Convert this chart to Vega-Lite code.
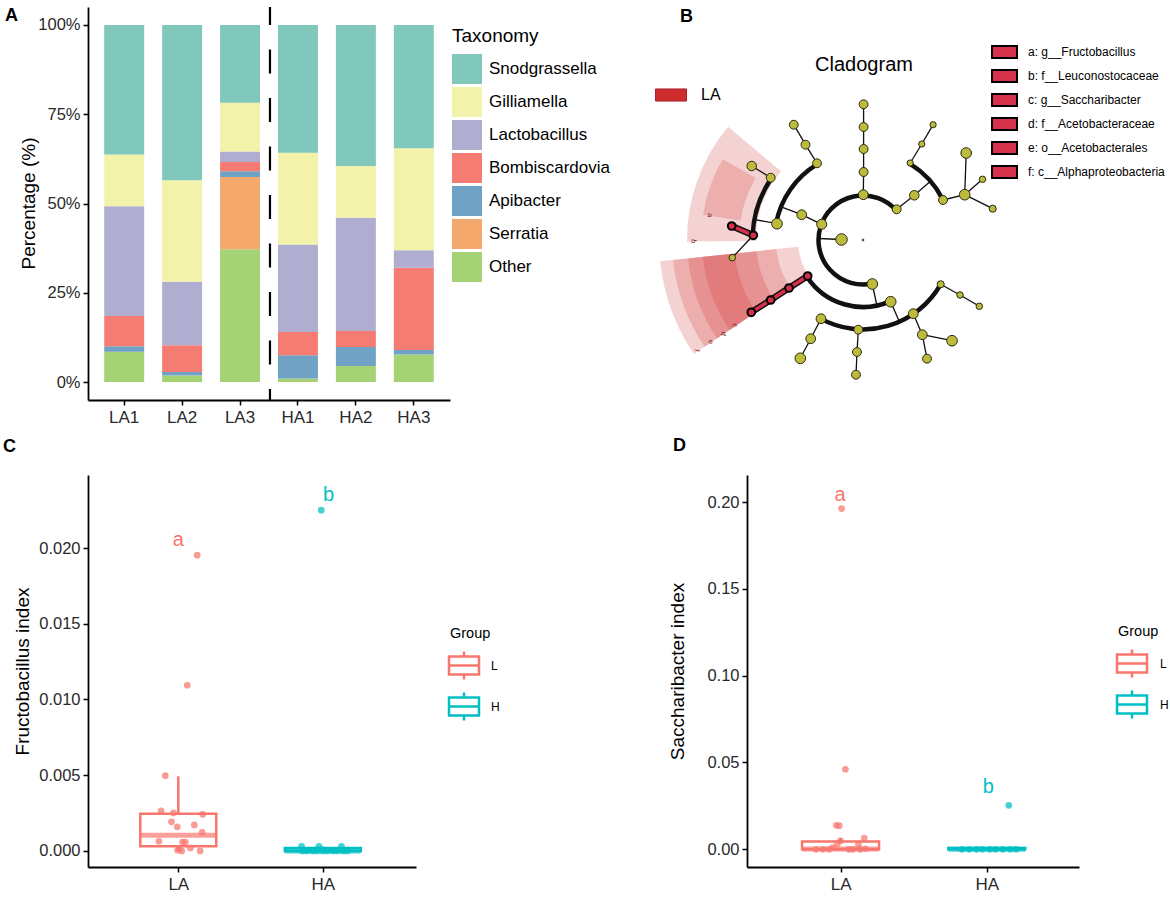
{
  "$schema": "https://vega.github.io/schema/vega-lite/v6.json",
  "background": "white",
  "padding": {"left": 3, "top": 5, "right": 0, "bottom": 0},
  "bounds": "flush",
  "columns": 2,
  "align": "all",
  "spacing": {"row": 75, "column": 297},
  "resolve": {"scale": {"color": "independent", "fill": "independent", "stroke": "independent", "size": "independent", "x": "independent", "y": "independent"}},
  "config": {
    "view": {"stroke": null},
    "font": "Liberation Sans",
    "axis": {"grid": false, "domainColor": "black", "domainWidth": 1.8, "tickColor": "black", "tickWidth": 1.5, "tickSize": 5, "labelColor": "#2a2a2a", "labelFontSize": 16.5, "labelFont": "Liberation Sans", "titleFont": "Liberation Sans", "titleFontSize": 19, "titleFontWeight": "normal", "titleColor": "black", "labelPadding": 3},
    "legend": {"labelFont": "Liberation Sans", "titleFont": "Liberation Sans", "labelColor": "black", "titleColor": "black", "padding": 0, "titleFontWeight": "normal"},
    "title": {"font": "Liberation Sans", "fontSize": 18, "fontWeight": "bold", "anchor": "start", "frame": "group", "baseline": "alphabetic", "color": "black"}
  },
  "datasets": {
    "taxa": [
      {"sample": "LA1", "taxon": "Other", "pct": 8.5, "rank": 1},
      {"sample": "LA1", "taxon": "Apibacter", "pct": 1.5, "rank": 3},
      {"sample": "LA1", "taxon": "Bombiscardovia", "pct": 8.5, "rank": 4},
      {"sample": "LA1", "taxon": "Lactobacillus", "pct": 30.7, "rank": 5},
      {"sample": "LA1", "taxon": "Gilliamella", "pct": 14.5, "rank": 6},
      {"sample": "LA1", "taxon": "Snodgrassella", "pct": 36.3, "rank": 7},
      {"sample": "LA2", "taxon": "Other", "pct": 1.8, "rank": 1},
      {"sample": "LA2", "taxon": "Apibacter", "pct": 1.0, "rank": 3},
      {"sample": "LA2", "taxon": "Bombiscardovia", "pct": 7.5, "rank": 4},
      {"sample": "LA2", "taxon": "Lactobacillus", "pct": 17.8, "rank": 5},
      {"sample": "LA2", "taxon": "Gilliamella", "pct": 28.4, "rank": 6},
      {"sample": "LA2", "taxon": "Snodgrassella", "pct": 43.5, "rank": 7},
      {"sample": "LA3", "taxon": "Other", "pct": 37.2, "rank": 1},
      {"sample": "LA3", "taxon": "Serratia", "pct": 20.2, "rank": 2},
      {"sample": "LA3", "taxon": "Apibacter", "pct": 1.6, "rank": 3},
      {"sample": "LA3", "taxon": "Bombiscardovia", "pct": 2.6, "rank": 4},
      {"sample": "LA3", "taxon": "Lactobacillus", "pct": 3.0, "rank": 5},
      {"sample": "LA3", "taxon": "Gilliamella", "pct": 13.6, "rank": 6},
      {"sample": "LA3", "taxon": "Snodgrassella", "pct": 21.8, "rank": 7},
      {"sample": "HA1", "taxon": "Other", "pct": 1.0, "rank": 1},
      {"sample": "HA1", "taxon": "Apibacter", "pct": 6.5, "rank": 3},
      {"sample": "HA1", "taxon": "Bombiscardovia", "pct": 6.5, "rank": 4},
      {"sample": "HA1", "taxon": "Lactobacillus", "pct": 24.5, "rank": 5},
      {"sample": "HA1", "taxon": "Gilliamella", "pct": 25.7, "rank": 6},
      {"sample": "HA1", "taxon": "Snodgrassella", "pct": 35.8, "rank": 7},
      {"sample": "HA2", "taxon": "Other", "pct": 4.5, "rank": 1},
      {"sample": "HA2", "taxon": "Apibacter", "pct": 5.3, "rank": 3},
      {"sample": "HA2", "taxon": "Bombiscardovia", "pct": 4.5, "rank": 4},
      {"sample": "HA2", "taxon": "Lactobacillus", "pct": 31.7, "rank": 5},
      {"sample": "HA2", "taxon": "Gilliamella", "pct": 14.5, "rank": 6},
      {"sample": "HA2", "taxon": "Snodgrassella", "pct": 39.5, "rank": 7},
      {"sample": "HA3", "taxon": "Other", "pct": 7.7, "rank": 1},
      {"sample": "HA3", "taxon": "Apibacter", "pct": 1.3, "rank": 3},
      {"sample": "HA3", "taxon": "Bombiscardovia", "pct": 23.0, "rank": 4},
      {"sample": "HA3", "taxon": "Lactobacillus", "pct": 4.9, "rank": 5},
      {"sample": "HA3", "taxon": "Gilliamella", "pct": 28.6, "rank": 6},
      {"sample": "HA3", "taxon": "Snodgrassella", "pct": 34.5, "rank": 7}
    ],
    "wedges": [
      {"group": "LA", "clade": "b", "t1": 269.5, "t2": 310, "r1": 107, "r2": 176},
      {"group": "LA", "clade": "a", "t1": 279, "t2": 300, "r1": 124, "r2": 162},
      {"group": "LA", "clade": "f", "t1": 236, "t2": 264, "r1": 65, "r2": 204},
      {"group": "LA", "clade": "e", "t1": 236, "t2": 264, "r1": 87, "r2": 191},
      {"group": "LA", "clade": "d", "t1": 236, "t2": 264, "r1": 107, "r2": 176},
      {"group": "LA", "clade": "c", "t1": 236, "t2": 264, "r1": 129, "r2": 161}
    ],
    "wlabels": [
      {"lbl": "a", "x": -153, "y": 24.7},
      {"lbl": "b", "x": -169.7, "y": -1.3},
      {"lbl": "c", "x": -128, "y": -85.3},
      {"lbl": "d", "x": -139.7, "y": -93.7},
      {"lbl": "e", "x": -152.3, "y": -102},
      {"lbl": "f", "x": -166.3, "y": -110.3}
    ],
    "arcs": [
      {"r": 44.5, "t1": -192, "t2": 47.7},
      {"r": 67, "t1": 155.8, "t2": 237},
      {"r": 88.5, "t1": 280.7, "t2": 329},
      {"r": 89.5, "t1": 31.5, "t2": 63.4},
      {"r": 89.4, "t1": 119.7, "t2": 208.1},
      {"r": 110.5, "t1": 272.5, "t2": 304}
    ],
    "edges": [
      {"x": -21.5, "y": 0.5, "x2": -44.5, "y2": 1.5, "bio": false},
      {"x": 0.3, "y": 45.3, "x2": 0.6, "y2": 68, "bio": false},
      {"x": 0.6, "y": 68, "x2": 0.6, "y2": 91, "bio": false},
      {"x": 0.6, "y": 91, "x2": 0.6, "y2": 113, "bio": false},
      {"x": 0.6, "y": 113, "x2": 0.6, "y2": 135.7, "bio": false},
      {"x": -41.3, "y": 15.7, "x2": -61.3, "y2": 25.3, "bio": false},
      {"x": -61.3, "y": 25.3, "x2": -82.5, "y2": 33.3, "bio": false},
      {"x": -86, "y": 16.3, "x2": -109.6, "y2": 20.7, "bio": false},
      {"x": -109.7, "y": 4.7, "x2": -130.7, "y2": -17.7, "bio": false},
      {"x": -92.3, "y": 62.3, "x2": -111.3, "y2": 74, "bio": false},
      {"x": -46, "y": 76.7, "x2": -57.5, "y2": 95.3, "bio": false},
      {"x": -57.5, "y": 95.3, "x2": -69.2, "y2": 115.3, "bio": false},
      {"x": 33.7, "y": 30.7, "x2": 51.3, "y2": 44.7, "bio": false},
      {"x": 51.3, "y": 44.7, "x2": 67.2, "y2": 58.4, "bio": false},
      {"x": 47.2, "y": 77, "x2": 58.8, "y2": 96, "bio": false},
      {"x": 58.8, "y": 96, "x2": 70.1, "y2": 115.3, "bio": false},
      {"x": 80, "y": 40, "x2": 101.7, "y2": 45.3, "bio": false},
      {"x": 101.7, "y": 45.3, "x2": 103.2, "y2": 87, "bio": false},
      {"x": 101.7, "y": 45.3, "x2": 119.5, "y2": 60.7, "bio": false},
      {"x": 101.7, "y": 45.3, "x2": 129.7, "y2": 31.3, "bio": false},
      {"x": 9.3, "y": -44, "x2": 13.9, "y2": -65.5, "bio": false},
      {"x": 27.7, "y": -61.7, "x2": 36.2, "y2": -81.3, "bio": false},
      {"x": 77.7, "y": -44.3, "x2": 97, "y2": -55, "bio": false},
      {"x": 97, "y": -55, "x2": 116.3, "y2": -66.3, "bio": false},
      {"x": 50.3, "y": -73.7, "x2": 59.3, "y2": -94.7, "bio": false},
      {"x": 59.3, "y": -94.7, "x2": 89, "y2": -100.7, "bio": false},
      {"x": 59.3, "y": -94.7, "x2": 64, "y2": -118.7, "bio": false},
      {"x": -4.7, "y": -89.7, "x2": -6, "y2": -112, "bio": false},
      {"x": -6, "y": -112, "x2": -7, "y2": -134.7, "bio": false},
      {"x": -42, "y": -78.7, "x2": -52.3, "y2": -98.7, "bio": false},
      {"x": -52.3, "y": -98.7, "x2": -62.7, "y2": -118.3, "bio": false},
      {"x": -55.3, "y": -36, "x2": -74, "y2": -48, "bio": true},
      {"x": -74, "y": -48, "x2": -92.3, "y2": -60, "bio": true},
      {"x": -92.3, "y": -60, "x2": -111.7, "y2": -72.3, "bio": true},
      {"x": -109.7, "y": 4.7, "x2": -131.3, "y2": 14, "bio": true}
    ],
    "nodes": [
      {"x": 0, "y": 0, "abund": 2, "bio": false},
      {"x": -21.5, "y": 0.5, "abund": 13, "bio": false},
      {"x": 0.3, "y": 45.3, "abund": 11, "bio": false},
      {"x": -41.3, "y": 15.7, "abund": 11.3, "bio": false},
      {"x": 33.7, "y": 30.7, "abund": 10, "bio": false},
      {"x": 9.3, "y": -44, "abund": 12, "bio": false},
      {"x": 0.6, "y": 68, "abund": 10, "bio": false},
      {"x": -61.3, "y": 25.3, "abund": 11, "bio": false},
      {"x": 51.3, "y": 44.7, "abund": 10.7, "bio": false},
      {"x": 27.7, "y": -61.7, "abund": 12, "bio": false},
      {"x": 0.6, "y": 91, "abund": 10, "bio": false},
      {"x": -86, "y": 16.3, "abund": 12, "bio": false},
      {"x": -46, "y": 76.7, "abund": 10, "bio": false},
      {"x": 47.2, "y": 77, "abund": 7, "bio": false},
      {"x": 80, "y": 40, "abund": 10, "bio": false},
      {"x": 77.7, "y": -44.3, "abund": 8, "bio": false},
      {"x": 50.3, "y": -73.7, "abund": 11, "bio": false},
      {"x": -4.7, "y": -89.7, "abund": 10, "bio": false},
      {"x": -42, "y": -78.7, "abund": 11, "bio": false},
      {"x": 0.6, "y": 113, "abund": 10, "bio": false},
      {"x": -92.3, "y": 62.3, "abund": 10, "bio": false},
      {"x": -57.5, "y": 95.3, "abund": 10, "bio": false},
      {"x": 58.8, "y": 96, "abund": 7, "bio": false},
      {"x": 101.7, "y": 45.3, "abund": 12, "bio": false},
      {"x": 97, "y": -55, "abund": 7.3, "bio": false},
      {"x": 59.3, "y": -94.7, "abund": 11, "bio": false},
      {"x": -6, "y": -112, "abund": 10, "bio": false},
      {"x": -52.3, "y": -98.7, "abund": 11, "bio": false},
      {"x": 0.6, "y": 135.7, "abund": 10, "bio": false},
      {"x": -130.7, "y": -17.7, "abund": 7.3, "bio": false},
      {"x": -111.3, "y": 74, "abund": 10.7, "bio": false},
      {"x": -69.2, "y": 115.3, "abund": 10, "bio": false},
      {"x": 70.1, "y": 115.3, "abund": 7, "bio": false},
      {"x": 103.2, "y": 87, "abund": 12, "bio": false},
      {"x": 119.5, "y": 60.7, "abund": 7.3, "bio": false},
      {"x": 129.7, "y": 31.3, "abund": 8, "bio": false},
      {"x": 116.3, "y": -66.3, "abund": 7.3, "bio": false},
      {"x": 89, "y": -100.7, "abund": 12, "bio": false},
      {"x": 64, "y": -118.7, "abund": 10, "bio": false},
      {"x": -7, "y": -134.7, "abund": 10, "bio": false},
      {"x": -62.7, "y": -118.3, "abund": 12, "bio": false},
      {"x": -131.3, "y": 14, "abund": 8.7, "bio": true, "clade": "a: g__Fructobacillus"},
      {"x": -109.7, "y": 4.7, "abund": 8.7, "bio": true, "clade": "b: f__Leuconostocaceae"},
      {"x": -111.7, "y": -72.3, "abund": 8.7, "bio": true, "clade": "c: g__Saccharibacter"},
      {"x": -92.3, "y": -60, "abund": 8.7, "bio": true, "clade": "d: f__Acetobacteraceae"},
      {"x": -74, "y": -48, "abund": 8.7, "bio": true, "clade": "e: o__Acetobacterales"},
      {"x": -55.3, "y": -36, "abund": 8.7, "bio": true, "clade": "f: c__Alphaproteobacteria"}
    ],
    "boxC": [
      {"Group": "L", "g": 1, "lo": 0, "q1": 0.00031, "med": 0.00104, "q3": 0.00246, "hi": 0.00493},
      {"Group": "H", "g": 2, "lo": 0, "q1": 0, "med": 0, "q3": 0.0002, "hi": 0.0003}
    ],
    "ptsC": [
      {"Group": "L", "gj": 1.131, "value": 0.01953},
      {"Group": "L", "gj": 1.062, "value": 0.01094},
      {"Group": "L", "gj": 0.91, "value": 0.00497},
      {"Group": "L", "gj": 0.881, "value": 0.00264},
      {"Group": "L", "gj": 0.967, "value": 0.00251},
      {"Group": "L", "gj": 1.169, "value": 0.00242},
      {"Group": "L", "gj": 0.953, "value": 0.00192},
      {"Group": "L", "gj": 0.993, "value": 0.00159},
      {"Group": "L", "gj": 1.111, "value": 0.00172},
      {"Group": "L", "gj": 1.165, "value": 0.00123},
      {"Group": "L", "gj": 0.866, "value": 0.00064},
      {"Group": "L", "gj": 1.029, "value": 0.00059},
      {"Group": "L", "gj": 1.049, "value": 0.00059},
      {"Group": "L", "gj": 1.007, "value": 0.00015},
      {"Group": "L", "gj": 1.024, "value": 0.0},
      {"Group": "L", "gj": 1.084, "value": 0.0002},
      {"Group": "L", "gj": 1.151, "value": 0.0},
      {"Group": "L", "gj": 0.995, "value": 0.00005},
      {"Group": "H", "gj": 1.989, "value": 0.0225},
      {"Group": "H", "gj": 1.853, "value": 0.0003},
      {"Group": "H", "gj": 1.973, "value": 0.0003},
      {"Group": "H", "gj": 2.129, "value": 0.0003},
      {"Group": "H", "gj": 1.86, "value": 0.0},
      {"Group": "H", "gj": 1.89, "value": 0.0},
      {"Group": "H", "gj": 1.93, "value": 0.0},
      {"Group": "H", "gj": 1.96, "value": 0.0},
      {"Group": "H", "gj": 2.0, "value": 0.0},
      {"Group": "H", "gj": 2.03, "value": 0.0},
      {"Group": "H", "gj": 2.07, "value": 0.0},
      {"Group": "H", "gj": 2.1, "value": 0.0},
      {"Group": "H", "gj": 2.14, "value": 0.0},
      {"Group": "H", "gj": 2.17, "value": 0.0}
    ],
    "lblC": [
      {"Group": "L", "g": 1, "y": 0.0205, "label": "a"},
      {"Group": "H", "g": 2.04, "y": 0.0235, "label": "b"}
    ],
    "boxD": [
      {"Group": "L", "g": 1, "lo": 0, "q1": 0, "med": 0.0002, "q3": 0.0045, "hi": 0.0065},
      {"Group": "H", "g": 2, "lo": 0, "q1": 0, "med": 0, "q3": 0.0008, "hi": 0.0008}
    ],
    "ptsD": [
      {"Group": "L", "gj": 1.007, "value": 0.1962},
      {"Group": "L", "gj": 1.033, "value": 0.0461},
      {"Group": "L", "gj": 0.971, "value": 0.0138},
      {"Group": "L", "gj": 0.991, "value": 0.0136},
      {"Group": "L", "gj": 1.162, "value": 0.0065},
      {"Group": "L", "gj": 1.0, "value": 0.0048},
      {"Group": "L", "gj": 0.978, "value": 0.003},
      {"Group": "L", "gj": 1.122, "value": 0.0026},
      {"Group": "L", "gj": 0.945, "value": 0.001},
      {"Group": "L", "gj": 0.832, "value": 0.0},
      {"Group": "L", "gj": 0.879, "value": 0.0},
      {"Group": "L", "gj": 0.923, "value": 0.0},
      {"Group": "L", "gj": 1.056, "value": 0.0},
      {"Group": "L", "gj": 1.084, "value": 0.0},
      {"Group": "L", "gj": 1.133, "value": 0.0},
      {"Group": "L", "gj": 1.17, "value": 0.0003},
      {"Group": "H", "gj": 2.151, "value": 0.0253},
      {"Group": "H", "gj": 1.83, "value": 0.0},
      {"Group": "H", "gj": 1.88, "value": 0.0},
      {"Group": "H", "gj": 1.93, "value": 0.0},
      {"Group": "H", "gj": 1.97, "value": 0.0},
      {"Group": "H", "gj": 2.02, "value": 0.0},
      {"Group": "H", "gj": 2.06, "value": 0.0},
      {"Group": "H", "gj": 2.11, "value": 0.0},
      {"Group": "H", "gj": 2.16, "value": 0.0},
      {"Group": "H", "gj": 2.2, "value": 0.0}
    ],
    "lblD": [
      {"Group": "L", "g": 0.996, "y": 0.2043, "label": "a"},
      {"Group": "H", "g": 2.01, "y": 0.0359, "label": "b"}
    ]
  },
  "concat": [
    {
      "title": {"text": "A", "dx": -83, "offset": -19},
      "width": 362,
      "height": 393,
      "layer": [
        {
          "data": {"name": "taxa"},
          "mark": {"type": "bar"},
          "encoding": {
            "x": {"field": "sample", "type": "nominal", "sort": ["LA1", "LA2", "LA3", "HA1", "HA2", "HA3"], "scale": {"paddingInner": 0.31, "paddingOuter": 0.28}, "axis": {"title": null, "labelAngle": 0, "labelFontSize": 17, "labelPadding": 4}},
            "y": {"field": "pct", "type": "quantitative", "stack": "zero", "scale": {"domain": [-5.04, 105.04], "nice": false, "zero": false}, "axis": {"title": "Percentage (%)", "values": [0, 25, 50, 75, 100], "labelExpr": "datum.value + '%'", "titleX": -50, "titleY": 196}},
            "color": {"field": "taxon", "type": "nominal",
              "scale": {"domain": ["Snodgrassella", "Gilliamella", "Lactobacillus", "Bombiscardovia", "Apibacter", "Serratia", "Other"], "range": ["#80c8bb", "#f2f2ab", "#b0aed0", "#f47c73", "#70a2c6", "#f4a86c", "#a5d275"]},
              "legend": {"title": "Taxonomy", "orient": "none", "legendX": 364, "legendY": 20, "symbolType": "square", "symbolSize": 900, "symbolStrokeWidth": 0, "symbolOpacity": 1, "titleFontSize": 19, "labelFontSize": 17, "titlePadding": 8, "rowPadding": 3, "labelOffset": 7}},
            "order": {"field": "rank", "type": "quantitative"}
          }
        },
        {
          "data": {"values": [{}]},
          "mark": {"type": "rule", "strokeDash": [24, 24.5], "strokeDashOffset": 6, "strokeWidth": 2.2, "color": "black", "xOffset": -8},
          "encoding": {"x": {"datum": "HA1", "bandPosition": 0}}
        }
      ]
    },
    {
      "title": {"text": "B", "dx": -67, "offset": -19},
      "width": 253,
      "height": 393,
      "resolve": {"scale": {"fill": "independent"}, "legend": {"fill": "independent"}},
      "layer": [
        {
          "data": {"name": "wedges"},
          "mark": {"type": "arc", "opacity": 0.21},
          "encoding": {
            "x": {"datum": 0, "type": "quantitative", "scale": {"domain": [-116, 137], "nice": false, "zero": false}, "axis": null},
            "y": {"datum": 0, "type": "quantitative", "scale": {"domain": [-160, 233], "nice": false, "zero": false}, "axis": null},
            "theta": {"field": "t1", "type": "quantitative", "stack": null, "scale": {"type": "linear", "domain": [0, 360], "range": [0, 6.283185307], "zero": false, "nice": false}},
            "theta2": {"field": "t2"},
            "radius": {"field": "r1", "type": "quantitative", "scale": {"type": "linear", "domain": [0, 100], "range": [0, 100], "zero": true, "nice": false}},
            "radius2": {"field": "r2"},
            "fill": {"field": "group", "type": "nominal", "scale": {"range": ["#cf2c2c"]},
              "legend": {"title": null, "orient": "none", "legendX": -92, "legendY": 72, "symbolType": "M-1,-0.39H1V0.39H-1Z", "symbolSize": 961, "symbolOpacity": 1, "symbolFillColor": "#d6303f", "symbolStrokeColor": "#a8202c", "symbolStrokeWidth": 1, "labelFontSize": 16, "labelOffset": 14}}
          }
        },
        {
          "data": {"name": "wlabels"},
          "mark": {"type": "text", "fontSize": 7, "color": "#6e1616", "angle": 100},
          "encoding": {
            "x": {"field": "x", "type": "quantitative"},
            "y": {"field": "y", "type": "quantitative"},
            "text": {"field": "lbl"}
          }
        },
        {
          "data": {"name": "arcs"},
          "mark": {"type": "arc", "fill": null, "stroke": "#111111", "strokeWidth": 4.5, "strokeJoin": "bevel"},
          "encoding": {
            "x": {"datum": 0, "type": "quantitative"},
            "y": {"datum": 0, "type": "quantitative"},
            "theta": {"field": "t1", "type": "quantitative", "stack": null},
            "theta2": {"field": "t2"},
            "radius": {"field": "r", "type": "quantitative"},
            "radius2": {"field": "r"}
          }
        },
        {
          "data": {"name": "edges"},
          "transform": [{"filter": "!datum.bio"}],
          "mark": {"type": "rule", "color": "#111111", "strokeWidth": 1.3},
          "encoding": {
            "x": {"field": "x", "type": "quantitative"},
            "y": {"field": "y", "type": "quantitative"},
            "x2": {"field": "x2"},
            "y2": {"field": "y2"}
          }
        },
        {
          "data": {"name": "edges"},
          "transform": [{"filter": "datum.bio"}],
          "mark": {"type": "rule", "color": "#111111", "strokeWidth": 6.5, "strokeCap": "round"},
          "encoding": {
            "x": {"field": "x", "type": "quantitative"},
            "y": {"field": "y", "type": "quantitative"},
            "x2": {"field": "x2"},
            "y2": {"field": "y2"}
          }
        },
        {
          "data": {"name": "edges"},
          "transform": [{"filter": "datum.bio"}],
          "mark": {"type": "rule", "color": "#d7304b", "strokeWidth": 3.5, "strokeCap": "round"},
          "encoding": {
            "x": {"field": "x", "type": "quantitative"},
            "y": {"field": "y", "type": "quantitative"},
            "x2": {"field": "x2"},
            "y2": {"field": "y2"}
          }
        },
        {
          "data": {"name": "nodes"},
          "transform": [{"filter": "!datum.bio"}],
          "mark": {"type": "point", "filled": true, "fill": "#bdbb3c", "stroke": "#2a2a10", "strokeWidth": 1, "opacity": 1},
          "encoding": {
            "x": {"field": "x", "type": "quantitative"},
            "y": {"field": "y", "type": "quantitative"},
            "size": {"field": "abund", "type": "quantitative", "scale": {"type": "pow", "exponent": 2, "domain": [0, 13], "range": [0, 133], "zero": true}, "legend": null}
          }
        },
        {
          "data": {"name": "nodes"},
          "transform": [{"filter": "datum.bio"}],
          "mark": {"type": "point", "filled": true, "stroke": "black", "strokeWidth": 2, "opacity": 1},
          "encoding": {
            "x": {"field": "x", "type": "quantitative"},
            "y": {"field": "y", "type": "quantitative"},
            "size": {"field": "abund", "type": "quantitative", "legend": null},
            "fill": {"field": "clade", "type": "nominal",
              "scale": {"domain": ["a: g__Fructobacillus", "b: f__Leuconostocaceae", "c: g__Saccharibacter", "d: f__Acetobacteraceae", "e: o__Acetobacterales", "f: c__Alphaproteobacteria"], "range": ["#d7304b", "#d7304b", "#d7304b", "#d7304b", "#d7304b", "#d7304b"]},
              "legend": {"title": null, "orient": "none", "legendX": 244, "legendY": 31.5, "symbolType": "M-1,-0.48H1V0.48H-1Z", "symbolSize": 625, "symbolStrokeColor": "black", "symbolStrokeWidth": 2, "symbolOpacity": 1, "labelFontSize": 12, "labelOffset": 10, "rowPadding": -1.4, "labelLimit": 300}}
          }
        },
        {
          "data": {"values": [{"name": "Cladogram"}]},
          "mark": {"type": "text", "fontSize": 20, "align": "center", "baseline": "middle", "color": "black"},
          "encoding": {
            "x": {"datum": 1, "type": "quantitative"},
            "y": {"datum": 175, "type": "quantitative"},
            "text": {"field": "name"}
          }
        }
      ]
    },
    {
      "title": {"text": "C", "dx": -85, "offset": 19},
      "width": 328,
      "height": 392,
      "layer": [
        {
          "data": {"name": "boxC"},
          "mark": {"type": "rule", "strokeWidth": 2.5},
          "encoding": {
            "x": {"field": "g", "type": "quantitative", "scale": {"domain": [0.41, 2.61], "nice": false, "zero": false}, "axis": {"title": null, "values": [1, 2], "labelExpr": "datum.value == 1 ? 'LA' : 'HA'", "labelFontSize": 17, "labelPadding": 4}},
            "y": {"field": "hi", "type": "quantitative", "scale": {"domain": [-0.00106, 0.02482], "nice": false, "zero": false}, "axis": {"title": "Fructobacillus index", "values": [0, 0.005, 0.01, 0.015, 0.02], "format": ".3f", "titleX": -56, "titleY": 196}},
            "y2": {"field": "q3"},
            "color": {"field": "Group", "type": "nominal", "scale": {"domain": ["H", "L"], "range": ["#00BFC4", "#F8766D"]}, "legend": null}
          }
        },
        {
          "data": {"name": "boxC"},
          "mark": {"type": "rule", "strokeWidth": 2.5},
          "encoding": {
            "x": {"field": "g", "type": "quantitative"},
            "y": {"field": "q1", "type": "quantitative"},
            "y2": {"field": "lo"},
            "color": {"field": "Group", "type": "nominal", "legend": null}
          }
        },
        {
          "data": {"name": "boxC"},
          "mark": {"type": "bar", "size": 76, "fill": "white", "strokeWidth": 2.5},
          "encoding": {
            "x": {"field": "g", "type": "quantitative"},
            "y": {"field": "q1", "type": "quantitative"},
            "y2": {"field": "q3"},
            "stroke": {"field": "Group", "type": "nominal", "scale": {"domain": ["L", "H"], "range": ["#F8766D", "#00BFC4"]},
              "legend": {"title": "Group", "orient": "none", "legendX": 362, "legendY": 152, "symbolType": "M-1.2,-0.72H1.2V0.72H-1.2Z M-1.2,0H1.2 M0,-0.72V-1.12 M0,0.72V1.12", "symbolSize": 625, "symbolFillColor": "white", "symbolStrokeWidth": 2.5, "titleFontSize": 14.5, "labelFontSize": 12, "titlePadding": 10, "rowPadding": 3, "labelOffset": 13}}
          }
        },
        {
          "data": {"name": "boxC"},
          "mark": {"type": "tick", "orient": "horizontal", "size": 76, "thickness": 5},
          "encoding": {
            "x": {"field": "g", "type": "quantitative"},
            "y": {"field": "med", "type": "quantitative"},
            "color": {"field": "Group", "type": "nominal", "legend": null}
          }
        },
        {
          "data": {"name": "ptsC"},
          "mark": {"type": "circle", "size": 45, "opacity": 0.72},
          "encoding": {
            "x": {"field": "gj", "type": "quantitative"},
            "y": {"field": "value", "type": "quantitative"},
            "color": {"field": "Group", "type": "nominal", "legend": null}
          }
        },
        {
          "data": {"name": "lblC"},
          "mark": {"type": "text", "fontSize": 20, "baseline": "middle"},
          "encoding": {
            "x": {"field": "g", "type": "quantitative"},
            "y": {"field": "y", "type": "quantitative"},
            "text": {"field": "label"},
            "color": {"field": "Group", "type": "nominal", "legend": null}
          }
        }
      ]
    },
    {
      "title": {"text": "D", "dx": -74, "offset": 20},
      "width": 332,
      "height": 392,
      "layer": [
        {
          "data": {"name": "boxD"},
          "mark": {"type": "rule", "strokeWidth": 2.5},
          "encoding": {
            "x": {"field": "g", "type": "quantitative", "scale": {"domain": [0.394, 2.597], "nice": false, "zero": false}, "axis": {"title": null, "values": [1, 2], "labelExpr": "datum.value == 1 ? 'LA' : 'HA'", "labelFontSize": 17, "labelPadding": 4}},
            "y": {"field": "hi", "type": "quantitative", "scale": {"domain": [-0.0102, 0.21555], "nice": false, "zero": false}, "axis": {"title": "Saccharibacter index", "values": [0, 0.05, 0.1, 0.15, 0.2], "format": ".2f", "titleX": -60, "titleY": 196}},
            "y2": {"field": "q3"},
            "color": {"field": "Group", "type": "nominal", "scale": {"domain": ["H", "L"], "range": ["#00BFC4", "#F8766D"]}, "legend": null}
          }
        },
        {
          "data": {"name": "boxD"},
          "mark": {"type": "rule", "strokeWidth": 2.5},
          "encoding": {
            "x": {"field": "g", "type": "quantitative"},
            "y": {"field": "q1", "type": "quantitative"},
            "y2": {"field": "lo"},
            "color": {"field": "Group", "type": "nominal", "legend": null}
          }
        },
        {
          "data": {"name": "boxD"},
          "mark": {"type": "bar", "size": 77, "fill": "white", "strokeWidth": 2.5},
          "encoding": {
            "x": {"field": "g", "type": "quantitative"},
            "y": {"field": "q1", "type": "quantitative"},
            "y2": {"field": "q3"},
            "stroke": {"field": "Group", "type": "nominal", "scale": {"domain": ["L", "H"], "range": ["#F8766D", "#00BFC4"]},
              "legend": {"title": "Group", "orient": "none", "legendX": 371, "legendY": 150, "symbolType": "M-1.2,-0.72H1.2V0.72H-1.2Z M-1.2,0H1.2 M0,-0.72V-1.12 M0,0.72V1.12", "symbolSize": 625, "symbolFillColor": "white", "symbolStrokeWidth": 2.5, "titleFontSize": 14.5, "labelFontSize": 12, "titlePadding": 10, "rowPadding": 3, "labelOffset": 14}}
          }
        },
        {
          "data": {"name": "boxD"},
          "mark": {"type": "tick", "orient": "horizontal", "size": 77, "thickness": 5},
          "encoding": {
            "x": {"field": "g", "type": "quantitative"},
            "y": {"field": "med", "type": "quantitative"},
            "color": {"field": "Group", "type": "nominal", "legend": null}
          }
        },
        {
          "data": {"name": "ptsD"},
          "mark": {"type": "circle", "size": 45, "opacity": 0.72},
          "encoding": {
            "x": {"field": "gj", "type": "quantitative"},
            "y": {"field": "value", "type": "quantitative"},
            "color": {"field": "Group", "type": "nominal", "legend": null}
          }
        },
        {
          "data": {"name": "lblD"},
          "mark": {"type": "text", "fontSize": 20, "baseline": "middle"},
          "encoding": {
            "x": {"field": "g", "type": "quantitative"},
            "y": {"field": "y", "type": "quantitative"},
            "text": {"field": "label"},
            "color": {"field": "Group", "type": "nominal", "legend": null}
          }
        }
      ]
    }
  ]
}
